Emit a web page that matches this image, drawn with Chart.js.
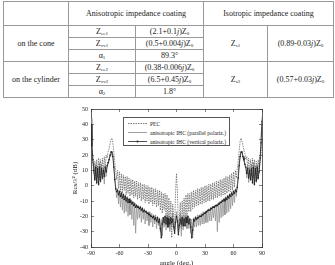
<!DOCTYPE html>
<html>
<head>
<meta charset="utf-8">
<script src="https://cdn.jsdelivr.net/npm/chart.js@4.4.1/dist/chart.umd.min.js"></script>
<style>
  html, body { margin: 0; padding: 0; background: #fff; width: 335px; height: 265px; overflow: hidden; font-family: "Liberation Serif", serif; }
  #tbl { position: absolute; left: 3px; top: 1px; width: 330px; border-collapse: collapse; table-layout: fixed; font-size: 8px; color: #222; }
  #tbl td { border: 1px solid #999; padding: 0; text-align: center; line-height: 10px; height: 11px; white-space: nowrap; }
  #tbl tr.hd td { height: 23px; }
  #tbl sub { font-size: 5px; line-height: 0; vertical-align: -1px; }
  #plot { position: absolute; left: 0; top: 97px; }
  #legend { position: absolute; left: 123px; top: 117px; width: 105px; height: 26px; border: 1px solid #555; background: #fff; padding-top: 1px; box-sizing: content-box; }
  #legend .row { height: 9px; display: flex; align-items: center; padding-left: 4px; font-size: 5.6px; color: #222; white-space: nowrap; }
  #legend svg { margin-right: 2px; }
</style>
</head>
<body>
<table id="tbl">
  <colgroup><col style="width:65px"><col style="width:67px"><col style="width:68px"><col style="width:64px"><col style="width:66px"></colgroup>
  <tr class="hd"><td></td><td colspan="2">Anisotropic impedance coating</td><td colspan="2">Isotropic impedance coating</td></tr>
  <tr><td rowspan="3">on the cone</td><td>Z<sub>ee1</sub></td><td>(2.1+0.1<i>j</i>)Z<sub>0</sub></td><td rowspan="3">Z<sub>s1</sub></td><td rowspan="3">(0.89-0.03<i>j</i>)Z<sub>0</sub></td></tr>
  <tr><td>Z<sub>vv1</sub></td><td>(0.5+0.004<i>j</i>)Z<sub>0</sub></td></tr>
  <tr><td>α<sub>1</sub></td><td>89.3°</td></tr>
  <tr><td rowspan="3">on the cylinder</td><td>Z<sub>ee2</sub></td><td>(0.38-0.006<i>j</i>)Z<sub>0</sub></td><td rowspan="3">Z<sub>s2</sub></td><td rowspan="3">(0.57+0.03<i>j</i>)Z<sub>0</sub></td></tr>
  <tr><td>Z<sub>vv2</sub></td><td>(6.5+0.45<i>j</i>)Z<sub>0</sub></td></tr>
  <tr><td>α<sub>2</sub></td><td>1.8°</td></tr>
</table>

<canvas id="plot" width="335" height="170"></canvas>

<div id="legend">
  <div class="row"><svg width="20" height="9"><line x1="0" y1="4.5" x2="19" y2="4.5" stroke="#555" stroke-width="0.8" stroke-dasharray="1.5 1"/></svg><span>PEC</span></div>
  <div class="row"><svg width="20" height="9"><line x1="0" y1="4.5" x2="19" y2="4.5" stroke="#888" stroke-width="0.8"/></svg><span>anisotropic IHC (parallel polariz.)</span></div>
  <div class="row"><svg width="20" height="9"><line x1="0" y1="4.5" x2="19" y2="4.5" stroke="#222" stroke-width="0.8"/><circle cx="9.5" cy="4.5" r="1" fill="#222"/></svg><span>anisotropic IHC (vertical polariz.)</span></div>
</div>

<script>
// angle grid in degrees, one sample per degree
const angleMin = -90;
const angleMax = 90;
const angles = [];
for (let a = angleMin; a <= angleMax; a++) angles.push(a);

const xTicks = [-90, -60, -30, 0, 30, 60, 90];
const yTicks = [-40, -30, -20, -10, 0, 10, 20, 30, 40, 50];

// RCS values (dB), -90 .. 90
const pec = [
  30, 18, 14, 8, 16, 5, 17, 6, 18, 4,
  17, 7, 18, 8, 19, 12, 20, 18, 22, 24,
  27, 30, 31, 28, 22, 15, 10, 4, 10, -2,
  9, -4, 8, -5, 7, -3, 6, -6, 6, -5,
  5, -7, 4, -6, 4, -8, 3, -7, 3, -9,
  2, -8, 2, -10, 1, -9, 1, -11, 0, -10,
  0, -12, -1, -11, -1, -13, -2, -12, -2, -14,
  -3, -13, -3, -16, -4, -18, -5, -16, -5, -20,
  -6, -24, -8, -28, -10, -34, -12, -20, -30, -4,
  8,
  -5, -29, -21, -11, -33, -10, -27, -8, -23, -6,
  -19, -5, -17, -5, -17, -4, -15, -3, -14, -3,
  -13, -2, -13, -2, -12, -1, -12, -1, -11, 0,
  -11, 0, -10, 1, -10, 1, -9, 2, -9, 2,
  -8, 3, -8, 3, -7, 4, -7, 4, -6, 5,
  -6, 6, -5, 6, -4, 7, -4, 8, -3, 9,
  -1, 10, 5, 11, 16, 23, 29, 31, 29, 26,
  23, 21, 17, 19, 11, 18, 7, 17, 6, 18,
  5, 17, 7, 16, 4, 17, 9, 15, 20, 30
];

const parallel = [
  44, 28, 16, 12, 3, 14, 1, 13, 0, 15,
  2, 14, 4, 12, 1, 13, 6, 12, 14, 16,
  19, 21, 22, 20, 14, 6, 0, -8, -2, -12,
  -3, -14, -4, -16, -5, -18, -6, -17, -7, -20,
  -8, -19, -9, -22, -10, -26, -11, -31, -12, -22,
  -13, -21, -14, -24, -14, -22, -15, -25, -16, -23,
  -17, -26, -17, -24, -18, -27, -19, -25, -19, -28,
  -20, -26, -21, -30, -22, -33, -21, -27, -20, -29,
  -19, -26, -20, -30, -21, -27, -18, -24, -30, -22,
  -17,
  -23, -31, -23, -18, -28, -20, -29, -20, -27, -19,
  -28, -20, -28, -21, -31, -22, -34, -21, -27, -20,
  -27, -19, -26, -19, -26, -18, -25, -17, -25, -17,
  -24, -16, -24, -15, -23, -14, -23, -14, -21, -13,
  -23, -12, -30, -11, -24, -10, -21, -9, -20, -8,
  -19, -7, -18, -6, -17, -5, -15, -4, -13, -3,
  -11, -2, -7, 1, 7, 15, 20, 22, 21, 18,
  16, 13, 11, 5, 13, 2, 12, 3, 14, 1,
  15, 0, 13, 2, 14, 4, 11, 17, 30, 45
];

const vertical = [
  40, 26, 17, 10, 4, 12, 2, 11, 1, 12,
  3, 11, 5, 10, 6, 12, 9, 13, 15, 17,
  20, 22, 22, 19, 12, 4, -2, -4, -3, -6,
  -4, -7, -5, -8, -6, -9, -7, -10, -8, -11,
  -9, -11, -10, -12, -11, -13, -12, -14, -13, -14,
  -14, -15, -14, -16, -15, -17, -16, -17, -17, -18,
  -18, -19, -19, -20, -20, -21, -20, -22, -21, -23,
  -21, -24, -22, -28, -34, -25, -21, -24, -20, -25,
  -21, -27, -22, -25, -21, -24, -22, -27, -31, -24,
  -20,
  -23, -32, -26, -22, -25, -21, -26, -22, -26, -21,
  -24, -20, -25, -22, -27, -34, -29, -22, -23, -21,
  -22, -21, -21, -20, -20, -20, -19, -19, -18, -18,
  -17, -17, -16, -16, -16, -15, -15, -14, -14, -14,
  -13, -13, -13, -12, -12, -11, -11, -10, -10, -9,
  -10, -8, -9, -7, -8, -6, -7, -5, -6, -4,
  -5, -3, -4, -1, 5, 13, 19, 22, 22, 19,
  17, 14, 12, 8, 11, 5, 10, 4, 11, 2,
  12, 1, 11, 3, 12, 5, 9, 18, 28, 42
];

const serif = '"Liberation Serif", "Times New Roman", serif';
const toXY = arr => arr.map((v, i) => ({ x: angles[i], y: v }));

const axisColor = '#333';

new Chart(document.getElementById('plot'), {
  type: 'line',
  data: {
    datasets: [
      {
        label: 'PEC',
        data: toXY(pec),
        borderColor: '#5a5a5a',
        borderWidth: 0.7,
        borderDash: [1.5, 1],
        pointRadius: 0,
        order: 1
      },
      {
        label: 'anisotropic IHC (parallel polariz.)',
        data: toXY(parallel),
        borderColor: '#8a8a8a',
        borderWidth: 0.7,
        pointRadius: 0,
        order: 2
      },
      {
        label: 'anisotropic IHC (vertical polariz.)',
        data: toXY(vertical),
        borderColor: '#222',
        borderWidth: 0.8,
        pointRadius: 0.8,
        pointBorderWidth: 0,
        pointBackgroundColor: '#222',
        order: 0
      }
    ]
  },
  options: {
    responsive: false,
    animation: false,
    devicePixelRatio: 1,
    layout: { padding: { left: 71, right: 73, top: 12, bottom: 0 } },
    elements: { line: { tension: 0 } },
    plugins: { legend: { display: false }, tooltip: { enabled: false } },
    scales: {
      x: {
        type: 'linear',
        position: 'bottom',
        min: xTicks[0],
        max: xTicks[xTicks.length - 1],
        afterBuildTicks: s => { s.ticks = xTicks.map(v => ({ value: v })); },
        ticks: { font: { family: serif, size: 6 }, color: '#222', padding: 6, maxRotation: 0 },
        grid: { drawOnChartArea: false, tickLength: -3, color: axisColor, lineWidth: 0.6 },
        border: { color: axisColor, width: 0.8 },
        title: { display: true, text: 'angle (deg.)', font: { family: serif, size: 7 }, color: '#222', padding: 0 },
        afterFit: s => { s.height = 20; }
      },
      x2: {
        type: 'linear',
        position: 'top',
        min: xTicks[0],
        max: xTicks[xTicks.length - 1],
        afterBuildTicks: s => { s.ticks = xTicks.map(v => ({ value: v })); },
        ticks: { display: false },
        grid: { drawOnChartArea: false, tickLength: -3, color: axisColor, lineWidth: 0.6 },
        border: { color: axisColor, width: 0.8 },
        afterFit: s => { s.height = 0; }
      },
      y: {
        type: 'linear',
        position: 'left',
        min: yTicks[0],
        max: yTicks[yTicks.length - 1],
        afterBuildTicks: s => { s.ticks = yTicks.map(v => ({ value: v })); },
        ticks: { font: { family: serif, size: 6 }, color: '#222', padding: 6 },
        grid: { drawOnChartArea: false, tickLength: -3, color: axisColor, lineWidth: 0.6 },
        border: { color: axisColor, width: 0.8 },
        title: { display: true, text: 'Rcs/λ² (dB)', font: { family: serif, size: 7 }, color: '#222', padding: 0 },
        afterFit: s => { s.width = 20; }
      },
      y2: {
        type: 'linear',
        position: 'right',
        min: yTicks[0],
        max: yTicks[yTicks.length - 1],
        afterBuildTicks: s => { s.ticks = yTicks.map(v => ({ value: v })); },
        ticks: { display: false },
        grid: { drawOnChartArea: false, tickLength: -3, color: axisColor, lineWidth: 0.6 },
        border: { color: axisColor, width: 0.8 },
        afterFit: s => { s.width = 0; }
      }
    }
  }
});
</script>
</body>
</html>
